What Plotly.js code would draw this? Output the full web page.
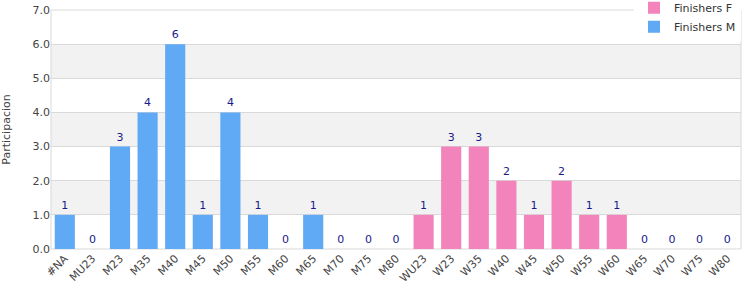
<!DOCTYPE html>
<html><head><meta charset="utf-8">
<script src="https://cdn.plot.ly/plotly-3.0.1.min.js"></script>
<style>body{margin:0;padding:0;background:#fff}#chart{width:750px;height:300px}</style>
</head><body><div id="chart"></div>
<script>
const catsM = ["#NA","MU23","M23","M35","M40","M45","M50","M55","M60","M65","M70","M75","M80"];
const valsM = [1,0,3,4,6,1,4,1,0,1,0,0,0];
const catsF = ["WU23","W23","W35","W40","W45","W50","W55","W60","W65","W70","W75","W80"];
const valsF = [1,3,3,2,1,2,1,1,0,0,0,0];
const allCats = catsM.concat(catsF);
const yTicks = [0,1,2,3,4,5,6,7];

const font = {family:"DejaVu Sans, sans-serif", size:11, color:"#444"};
const labelFont = {family:"DejaVu Sans, sans-serif", size:11, color:"#1a1a8c"};

const traceF = {type:"bar", name:"Finishers F", x:catsF, y:valsF, text:valsF.map(String),
  textposition:"outside", textfont:labelFont, cliponaxis:false,
  marker:{color:"#f383bb"}, hoverinfo:"x+y"};
const traceM = {type:"bar", name:"Finishers M", x:catsM, y:valsM, text:valsM.map(String),
  textposition:"outside", textfont:labelFont, cliponaxis:false,
  marker:{color:"#60a9f5"}, hoverinfo:"x+y"};

const shapes = [];
for (let i = 0; i < yTicks.length - 1; i++) {
  if (i % 2 === 1) {
    shapes.push({type:"rect", xref:"paper", yref:"y", x0:0, x1:1, y0:yTicks[i], y1:yTicks[i+1],
      fillcolor:"#f2f2f2", line:{width:0}, layer:"below"});
  }
}
shapes.push({type:"rect", xref:"paper", yref:"paper", x0:0, x1:1, y0:0, y1:1,
  line:{color:"#d9d9d9", width:1}, layer:"below"});

const layout = {
  width:750, height:300,
  margin:{l:51, r:9, t:10, b:51, autoexpand:false},
  paper_bgcolor:"#fff", plot_bgcolor:"#fff",
  font:font,
  barmode:"overlay", bargap:0.27,
  showlegend:true,
  legend:{x:1, xanchor:"right", y:1.07, yanchor:"top", bgcolor:"#fff",
    font:{family:"DejaVu Sans, sans-serif", size:11, color:"#333"},
    traceorder:"normal", tracegroupgap:0, itemwidth:30},
  xaxis:{type:"category", categoryorder:"array", categoryarray:allCats,
    tickangle:-45, tickfont:font, showgrid:false, showline:false, zeroline:false,
    ticks:"", range:[-0.5, allCats.length-0.5], automargin:false},
  yaxis:{range:[0,7], tickvals:yTicks, tickformat:".1f", tickfont:font,
    showgrid:true, gridcolor:"#d9d9d9", gridwidth:1, zeroline:false, ticks:"", automargin:false,
    title:{text:"Participacion", font:{family:"DejaVu Sans, sans-serif", size:11, color:"#444"}, standoff:20}},
  shapes:shapes
};

Plotly.newPlot("chart", [traceF, traceM], layout, {displayModeBar:false, staticPlot:true});
</script></body></html>
